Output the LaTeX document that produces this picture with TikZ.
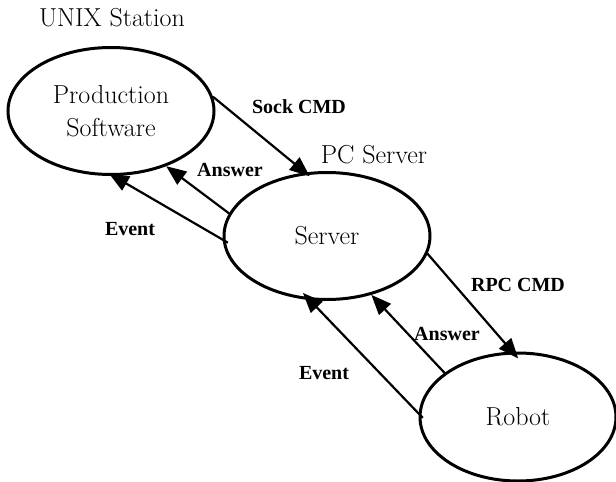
\documentclass[tikz,border=0pt]{standalone}
\usepackage{fontspec}
\newfontfamily\labfont{Liberation Serif}
\usetikzlibrary{shapes.geometric,arrows.meta}
\tikzset{
  proc/.style={ellipse, draw, line width=3pt, inner sep=0pt, minimum width=206pt, minimum height=127pt, font=\fontsize{26}{30}\selectfont, align=center},
  title/.style={font=\fontsize{26}{30}\selectfont},
  lab/.style={font=\labfont\bfseries\fontsize{20}{22}\selectfont},
  flow/.style={line width=2.2pt, -{Triangle[length=20pt,width=16pt]}}
}
\begin{document}
\begin{tikzpicture}[x=1pt,y=-1pt]
\useasboundingbox (0,0) rectangle (616,482);
\node[proc] (ps) at (111,111) {Production\\[3pt]Software};
\node[proc] (srv) at (327,236) {Server};
\node[proc, minimum width=196pt, minimum height=128pt] (rob) at (518,417) {Robot};
\node[title] (unix) at (112,18) {UNIX Station};
\node[title] (pcs) at (374,155) {PC Server};
\node[lab] (l1) at (299,107) {Sock CMD};
\node[lab] (l2) at (230,170) {Answer};
\node[lab] (l3) at (130,229) {Event};
\node[lab] (l4) at (518,285) {RPC CMD};
\node[lab] (l5) at (447,334) {Answer};
\node[lab] (l6) at (324,373) {Event};
\draw[flow, shorten >=-6pt] (ps.8) -- (srv.109);
\draw[flow] (srv.167) -- (ps.-45);
\draw[flow, shorten <=-6pt, shorten >=-5pt] (srv.182) -- (ps.-88);
\draw[flow, shorten >=-9pt] (srv.-10) -- (rob.95);
\draw[flow] (rob.149) -- (srv.-53);
\draw[flow, shorten <=-6pt, shorten >=-10pt] (rob.178) -- (srv.-105);
\end{tikzpicture}
\end{document}
